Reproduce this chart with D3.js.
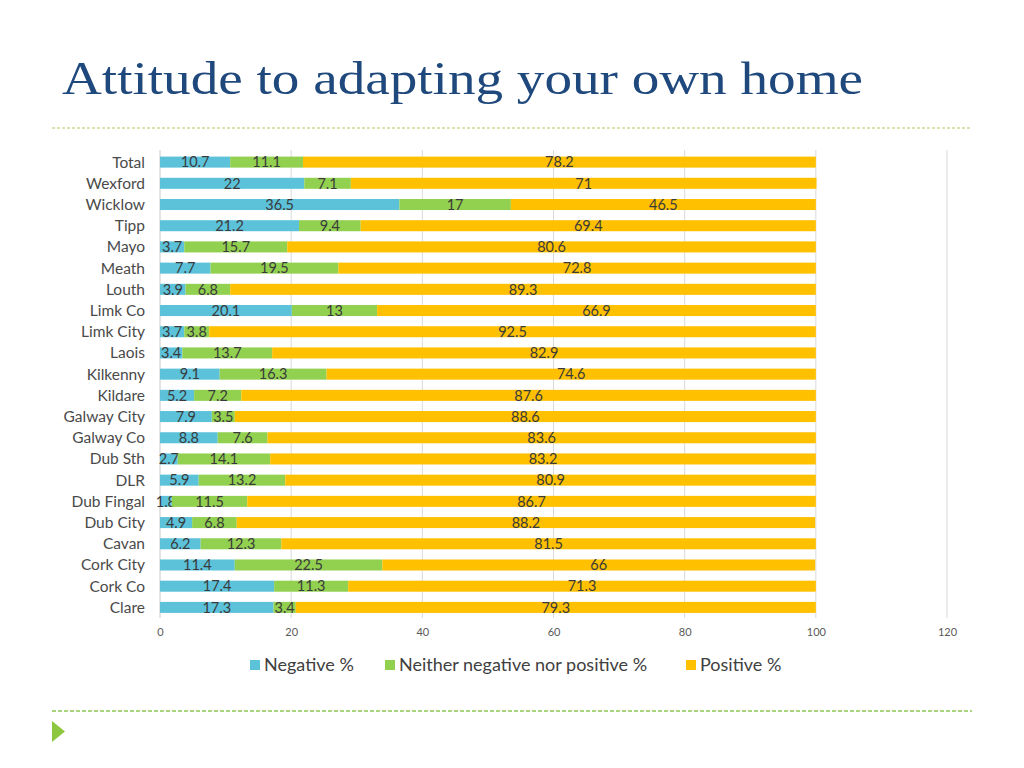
<!DOCTYPE html>
<html><head><meta charset="utf-8">
<script src="https://cdn.jsdelivr.net/npm/d3@7"></script>
<style>body{margin:0;background:#fff}svg{display:block}</style>
</head><body>
<script>
const categories = ["Total","Wexford","Wicklow","Tipp","Mayo","Meath","Louth","Limk Co","Limk City","Laois","Kilkenny","Kildare","Galway City","Galway Co","Dub Sth","DLR","Dub Fingal","Dub City","Cavan","Cork City","Cork Co","Clare"];
const negative = [10.7,22,36.5,21.2,3.7,7.7,3.9,20.1,3.7,3.4,9.1,5.2,7.9,8.8,2.7,5.9,1.8,4.9,6.2,11.4,17.4,17.3];
const neither  = [11.1,7.1,17,9.4,15.7,19.5,6.8,13,3.8,13.7,16.3,7.2,3.5,7.6,14.1,13.2,11.5,6.8,12.3,22.5,11.3,3.4];
const positive = [78.2,71,46.5,69.4,80.6,72.8,89.3,66.9,92.5,82.9,74.6,87.6,88.6,83.6,83.2,80.9,86.7,88.2,81.5,66,71.3,79.3];
const seriesNames = ["Negative %","Neither negative nor positive %","Positive %"];
const colors = ["#5BC2DA","#92D050","#FFC000"];
const xTicks = [0,20,40,60,80,100,120];

const W=1024,H=768;
const svg=d3.select("body").append("svg").attr("width",W).attr("height",H);
const sans="Lato, 'Open Sans', sans-serif";

// title
svg.append("text").attr("x",62).attr("y",94).attr("font-family","'Liberation Serif', 'DejaVu Serif', serif")
  .attr("font-size",46).attr("fill","#1F497D").attr("textLength",801).attr("lengthAdjust","spacingAndGlyphs")
  .text("Attitude to adapting your own home");
svg.append("line").attr("x1",52).attr("x2",972).attr("y1",128).attr("y2",128)
  .attr("stroke","#cfdc96").attr("stroke-width",1.5).attr("stroke-dasharray","3,2");
svg.append("line").attr("x1",52).attr("x2",972).attr("y1",711).attr("y2",711)
  .attr("stroke","#8cc850").attr("stroke-width",1.5).attr("stroke-dasharray","4,2");
svg.append("path").attr("d","M52,721 L65,731.5 L52,742 Z").attr("fill","#8DC63F");

const x=d3.scaleLinear().domain([0,120]).range([160,947]);
const y=d3.scaleBand().domain(categories).range([151.5,618]).paddingInner(0.48).paddingOuter(0.24);

// gridlines
svg.append("g").selectAll("line").data(xTicks).join("line")
  .attr("x1",d=>x(d)).attr("x2",d=>x(d)).attr("y1",150).attr("y2",618)
  .attr("stroke",d=>d===0?"#c8c8c8":"#dadada").attr("stroke-width",1);

// axis labels
const ax=svg.append("g").attr("transform","translate(0,632)")
  .call(d3.axisBottom(x).tickValues(xTicks).tickSize(0).tickPadding(0));
ax.select(".domain").remove();
ax.selectAll("text").attr("font-family",sans).attr("font-size",11).attr("fill","#595959").attr("dy","0.35em").attr("y",0);

// category labels
svg.append("g").selectAll("text").data(categories).join("text")
  .attr("x",145).attr("y",d=>y(d)+y.bandwidth()/2).attr("dy","0.35em").attr("text-anchor","end")
  .attr("font-family",sans).attr("font-size",15.5).attr("fill","#4a4a4a").text(d=>d);

const stackData=categories.map((c,i)=>({cat:c,neg:negative[i],nei:neither[i],pos:positive[i]}));
const stack=d3.stack().keys(["neg","nei","pos"])(stackData);

stack.forEach((layer,si)=>{
  const g=svg.append("g");
  g.selectAll("rect").data(layer).join("rect")
    .attr("x",d=>x(d[0])).attr("width",d=>x(d[1])-x(d[0]))
    .attr("y",d=>y(d.data.cat)).attr("height",y.bandwidth()).attr("fill",colors[si]);
  g.selectAll("text").data(layer).join("text")
    .attr("x",d=>(x(d[0])+x(d[1]))/2).attr("y",d=>y(d.data.cat)+y.bandwidth()/2).attr("dy","0.36em")
    .attr("text-anchor","middle").attr("font-family",sans).attr("font-size",14.5).attr("fill","#3a3a3a")
    .text(d=>d[1]-d[0]>0? (+ (d[1]-d[0]).toFixed(1)).toString():"");
});

// legend
const legX=[250,385,686];
const lg=svg.append("g");
seriesNames.forEach((n,i)=>{
  lg.append("rect").attr("x",legX[i]).attr("y",660).attr("width",10).attr("height",10).attr("fill",colors[i]);
  lg.append("text").attr("x",legX[i]+14).attr("y",665).attr("dy","0.35em").attr("font-family",sans)
    .attr("font-size",18).attr("fill","#404040").text(n);
});
</script>
</body></html>
